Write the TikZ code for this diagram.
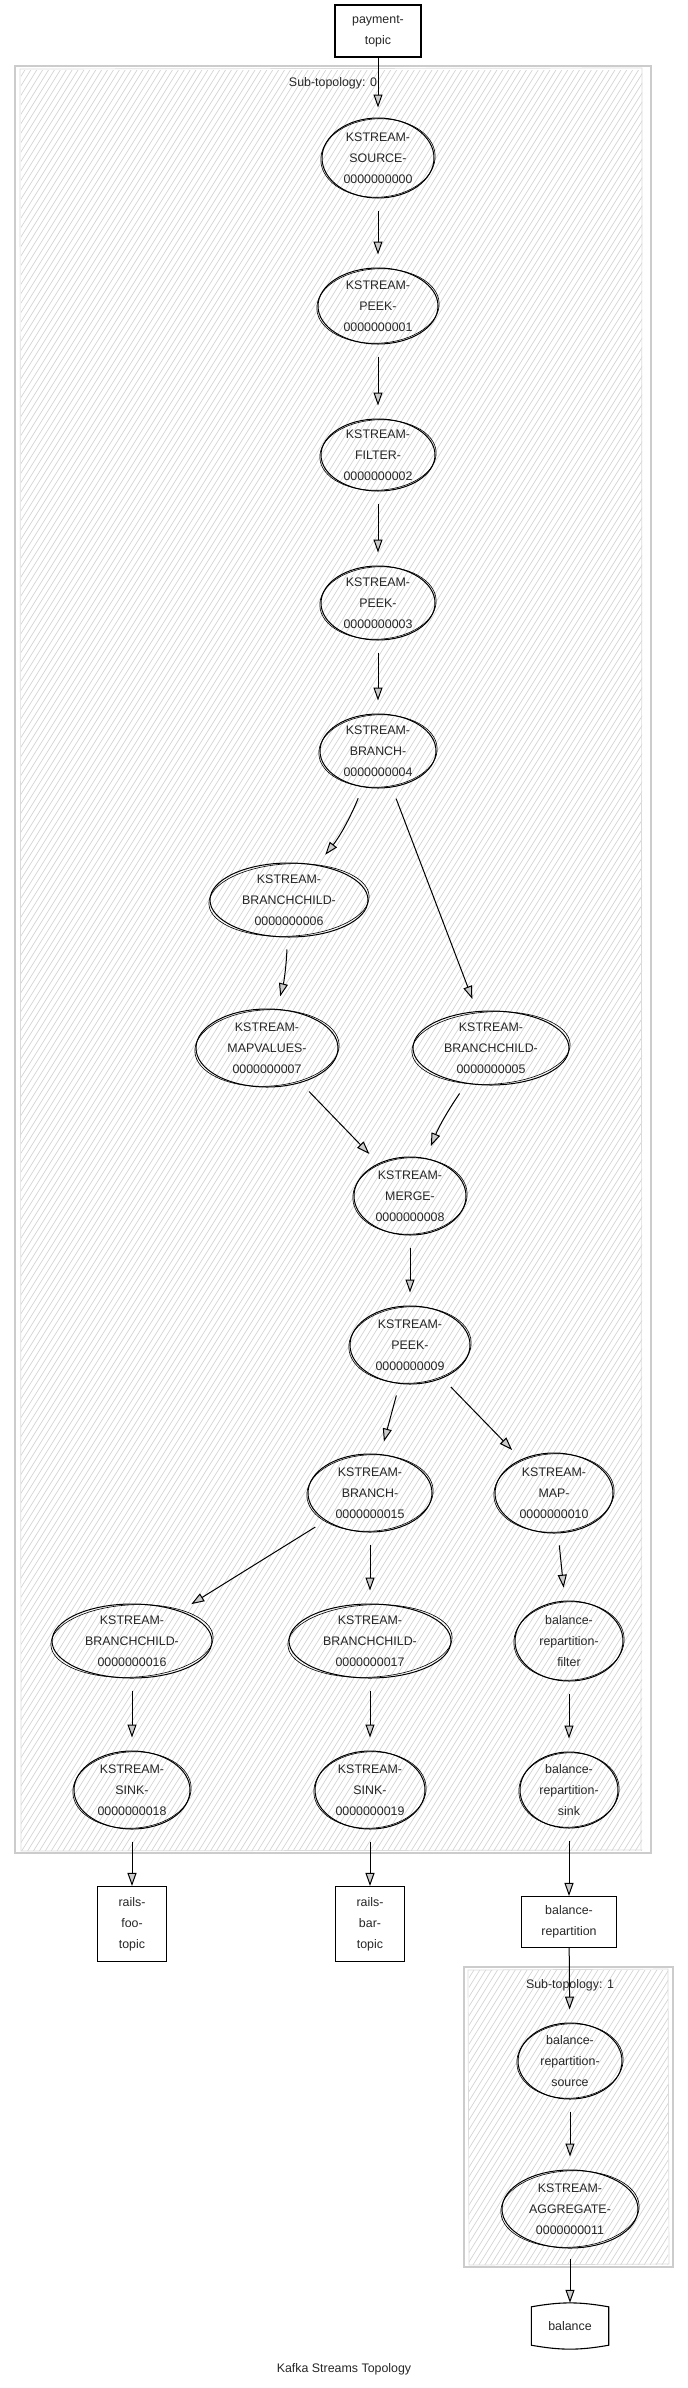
\documentclass[tikz,border=0pt]{standalone}
\usepackage{fontspec}
\setmainfont{Liberation Sans}
\usetikzlibrary{arrows.meta,shapes.geometric}
\newcommand\kfont{\fontsize{12.4pt}{20.8pt}\selectfont}
\tikzset{
  knode/.style={ellipse, draw=black, line width=1pt, inner sep=0pt, align=center, font=\kfont, text=black!85},
  rough2/.style={draw=black, line width=0.6pt},
  topicbox/.style={rectangle, draw=black, line width=1.1pt, inner sep=0pt, align=center, font=\kfont, text=black!85, fill=white},
  storebox/.style={rectangle, draw=none, inner sep=0pt, align=center, font=\kfont, text=black!85},
  flow/.style={draw=black, line width=1pt, -{Triangle[length=13pt,width=9pt,fill=black!20]}, shorten <=12pt, shorten >=13pt},
  hatch/.style={draw=black!17, line width=0.7pt},
  clusterline/.style={draw=black!20, line width=1.6pt},
  clusterthin/.style={draw=black!14, line width=0.7pt},
  lbl/.style={font=\kfont, text=black!85, inner sep=0pt},
}
\newcommand\mkell[6]{%
  \node[knode, minimum width=#4*2pt, minimum height=#5*2pt] (#1) at (#2,#3) {#6};
  \draw[rough2, rotate around={3:(#1.center)}] (#1.center) ellipse [x radius=#4+1.2, y radius=#5-0.8];
}
\begin{document}
\begin{tikzpicture}[x=1pt,y=-1pt]
\useasboundingbox (0,0) rectangle (688,2388);
% ---------- cluster 0 ----------
\begin{scope}
  \clip (21,70) rectangle (642,1850);
  \foreach \i in {0,...,300} { \draw[hatch] ({-1100+\i*5.9},1852) -- ++(1115,-1785); }
\end{scope}
\draw[clusterline] (15,66) rectangle (651,1853);
\draw[clusterthin] (20,69) -- (642,68) -- (641,1850) -- (21,1851) -- cycle;
\node[lbl] (lab0) at (333,83) {Sub-topology: 0};
% ---------- cluster 1 ----------
\begin{scope}
  \clip (469,1970) rectangle (668,2264);
  \foreach \i in {0,...,70} { \draw[hatch] ({277+\i*5.9},2267) -- ++(187,-300); }
\end{scope}
\draw[clusterline] (464,1967) rectangle (673,2267);
\draw[clusterthin] (468,1970) -- (668,1969) -- (669,2264) -- (469,2265) -- cycle;
\node[lbl] (lab1) at (570,1985) {Sub-topology: 1};
% ---------- nodes ----------
\node[topicbox, minimum width=86pt, minimum height=52pt] (payment) at (378,31) {payment-\\topic};
\mkell{src}{378}{158}{56}{40}{KSTREAM-\\SOURCE-\\0000000000}
\mkell{peek1}{378}{306}{60}{38}{KSTREAM-\\PEEK-\\0000000001}
\mkell{filter2}{378}{455}{57}{36}{KSTREAM-\\FILTER-\\0000000002}
\mkell{peek3}{378}{603}{57}{37}{KSTREAM-\\PEEK-\\0000000003}
\mkell{branch4}{378}{751}{58}{37}{KSTREAM-\\BRANCH-\\0000000004}
\mkell{bc6}{289}{900}{79}{37}{KSTREAM-\\BRANCHCHILD-\\0000000006}
\mkell{mv7}{267}{1048}{71}{39}{KSTREAM-\\MAPVALUES-\\0000000007}
\mkell{bc5}{491}{1048}{78}{37}{KSTREAM-\\BRANCHCHILD-\\0000000005}
\mkell{merge8}{410}{1196}{56}{39}{KSTREAM-\\MERGE-\\0000000008}
\mkell{peek9}{410}{1345}{60}{39}{KSTREAM-\\PEEK-\\0000000009}
\mkell{branch15}{370}{1493}{62}{39}{KSTREAM-\\BRANCH-\\0000000015}
\mkell{map10}{554}{1493}{59}{40}{KSTREAM-\\MAP-\\0000000010}
\mkell{bc16}{132}{1641}{80}{37}{KSTREAM-\\BRANCHCHILD-\\0000000016}
\mkell{bc17}{370}{1641}{81}{37}{KSTREAM-\\BRANCHCHILD-\\0000000017}
\mkell{brfilter}{569}{1641}{54}{40}{balance-\\repartition-\\filter}
\mkell{sink18}{132}{1790}{58}{39}{KSTREAM-\\SINK-\\0000000018}
\mkell{sink19}{370}{1790}{55}{39}{KSTREAM-\\SINK-\\0000000019}
\mkell{brsink}{569}{1790}{49}{38}{balance-\\repartition-\\sink}
\node[topicbox, minimum width=69pt, minimum height=75pt] (railsfoo) at (132,1924) {rails-\\foo-\\topic};
\node[topicbox, minimum width=69pt, minimum height=75pt] (railsbar) at (370,1924) {rails-\\bar-\\topic};
\node[topicbox, minimum width=95pt, minimum height=51pt] (balrep) at (569,1922) {balance-\\repartition};
\mkell{brsource}{570}{2061}{52}{38}{balance-\\repartition-\\source}
\mkell{agg}{570}{2209}{68}{39}{KSTREAM-\\AGGREGATE-\\0000000011}
\node[storebox, minimum width=77pt, minimum height=44pt] (balance) at (570,2326) {balance};
\draw[line width=1.1pt, fill=white] ([yshift=-3pt]balance.north west) to[bend left=10] ([yshift=-3pt]balance.north east)
  -- ([yshift=3pt]balance.south east) to[bend left=10] ([yshift=3pt]balance.south west) -- cycle;
\node[storebox] at (balance.center) {balance};
\node[lbl] (caption) at (344,2369) {Kafka Streams Topology};
% ---------- connectors ----------
\draw[flow, shorten <=0pt, shorten >=10pt] (payment) -- (src);
\draw[flow] (src) -- (peek1);
\draw[flow] (peek1) -- (filter2);
\draw[flow] (filter2) -- (peek3);
\draw[flow] (peek3) -- (branch4);
\draw[flow] (branch4) to[bend left=8] (bc6);
\draw[flow] (branch4) -- (bc5);
\draw[flow] (bc6) to[bend left=6] (mv7);
\draw[flow] (mv7) -- (merge8);
\draw[flow] (bc5) to[bend right=6] (merge8);
\draw[flow] (merge8) -- (peek9);
\draw[flow] (peek9) -- (branch15);
\draw[flow] (peek9) -- (map10);
\draw[flow] (branch15) -- (bc16);
\draw[flow] (branch15) -- (bc17);
\draw[flow] (map10) -- (brfilter);
\draw[flow] (bc16) -- (sink18);
\draw[flow] (bc17) -- (sink19);
\draw[flow] (brfilter) -- (brsink);
\draw[flow, shorten >=0pt] (sink18) -- (railsfoo);
\draw[flow, shorten >=0pt] (sink19) -- (railsbar);
\draw[flow, shorten >=0pt] (brsink) -- (balrep);
\draw[flow, shorten <=0pt, shorten >=13pt] (balrep) -- (brsource);
\draw[flow] (brsource) -- (agg);
\draw[flow, shorten <=10pt, shorten >=1pt] (agg) -- (balance);
\end{tikzpicture}
\end{document}
